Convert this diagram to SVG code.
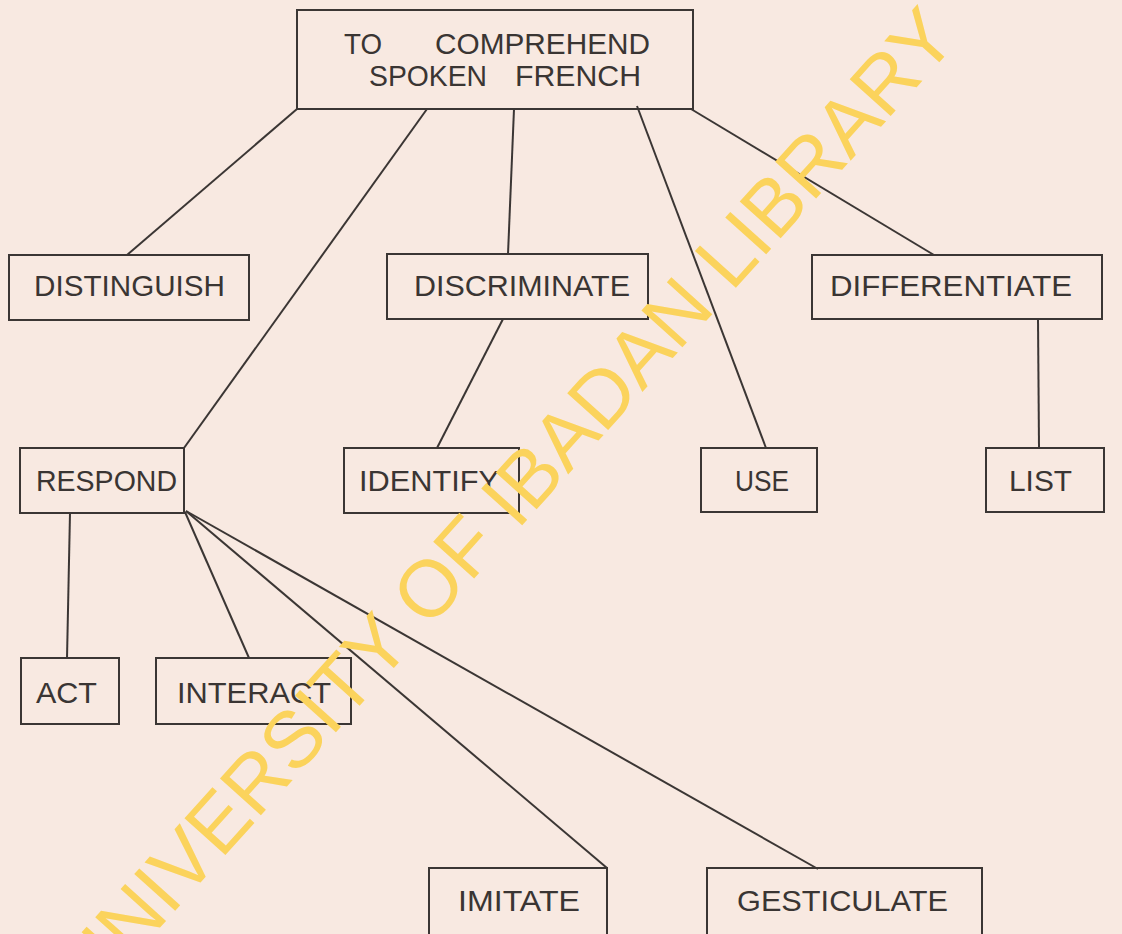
<svg xmlns="http://www.w3.org/2000/svg" width="1122" height="934" viewBox="0 0 1122 934">
<style>
.box{fill:none;stroke:#3b3634;stroke-width:2}
.lbl{font-family:"Liberation Sans",Arial,sans-serif;font-size:29px;fill:#3a3533}
.edge{stroke:#3b3634;stroke-width:2;fill:none}
.wm{font-family:"Liberation Sans",Arial,sans-serif;font-size:80px;fill:#fbd35c}
</style>
<rect width="1122" height="934" fill="#f8e9e1"/>
<g id="connectors">
<line class="edge" x1="297" y1="109" x2="127" y2="255"/>
<line class="edge" x1="427" y1="109" x2="184" y2="448"/>
<line class="edge" x1="514" y1="109" x2="508" y2="254"/>
<line class="edge" x1="637" y1="106" x2="766" y2="448"/>
<line class="edge" x1="691" y1="109" x2="934" y2="255"/>
<line class="edge" x1="503" y1="319" x2="437" y2="448"/>
<line class="edge" x1="1038" y1="319" x2="1039" y2="448"/>
<line class="edge" x1="70" y1="513" x2="67" y2="658"/>
<line class="edge" x1="185" y1="512" x2="249" y2="658"/>
<line class="edge" x1="186" y1="511" x2="607" y2="868"/>
<line class="edge" x1="186" y1="511" x2="818" y2="869"/>
</g>
<g id="n-top">
<rect class="box" x="297" y="10" width="396" height="99"/>
<text class="lbl"><tspan x="344" y="54" textLength="38" lengthAdjust="spacingAndGlyphs">TO</tspan><tspan x="435" y="54" textLength="215" lengthAdjust="spacingAndGlyphs">COMPREHEND</tspan><tspan x="369" y="86" textLength="118" lengthAdjust="spacingAndGlyphs">SPOKEN</tspan><tspan x="515" y="86" textLength="126" lengthAdjust="spacingAndGlyphs">FRENCH</tspan></text>
</g>
<g id="n-distinguish">
<rect class="box" x="9" y="255" width="240" height="65"/>
<text class="lbl" x="34" y="296" textLength="191" lengthAdjust="spacingAndGlyphs">DISTINGUISH</text>
</g>
<g id="n-discriminate">
<rect class="box" x="387" y="254" width="261" height="65"/>
<text class="lbl" x="414" y="296" textLength="216" lengthAdjust="spacingAndGlyphs">DISCRIMINATE</text>
</g>
<g id="n-differentiate">
<rect class="box" x="812" y="255" width="290" height="64"/>
<text class="lbl" x="830" y="296" textLength="242" lengthAdjust="spacingAndGlyphs">DIFFERENTIATE</text>
</g>
<g id="n-respond">
<rect class="box" x="20" y="448" width="164" height="65"/>
<text class="lbl" x="36" y="491" textLength="141" lengthAdjust="spacingAndGlyphs">RESPOND</text>
</g>
<g id="n-identify">
<rect class="box" x="344" y="448" width="175" height="65"/>
<text class="lbl" x="359" y="491" textLength="140" lengthAdjust="spacingAndGlyphs">IDENTIFY</text>
</g>
<g id="n-use">
<rect class="box" x="701" y="448" width="116" height="64"/>
<text class="lbl" x="735" y="491" textLength="54" lengthAdjust="spacingAndGlyphs">USE</text>
</g>
<g id="n-list">
<rect class="box" x="986" y="448" width="118" height="64"/>
<text class="lbl" x="1009" y="491" textLength="63" lengthAdjust="spacingAndGlyphs">LIST</text>
</g>
<g id="n-act">
<rect class="box" x="21" y="658" width="98" height="66"/>
<text class="lbl" x="36" y="703" textLength="61" lengthAdjust="spacingAndGlyphs">ACT</text>
</g>
<g id="n-interact">
<rect class="box" x="156" y="658" width="195" height="66"/>
<text class="lbl" x="177" y="703" textLength="154" lengthAdjust="spacingAndGlyphs">INTERACT</text>
</g>
<g id="n-imitate">
<rect class="box" x="429" y="868" width="178" height="70"/>
<text class="lbl" x="458" y="911" textLength="122" lengthAdjust="spacingAndGlyphs">IMITATE</text>
</g>
<g id="n-gesticulate">
<rect class="box" x="707" y="868" width="275" height="70"/>
<text class="lbl" x="737" y="911" textLength="211" lengthAdjust="spacingAndGlyphs">GESTICULATE</text>
</g>
<text class="wm" transform="translate(93,1002) rotate(-48)">UNIVERSITY OF IBADAN LIBRARY</text>
</svg>
